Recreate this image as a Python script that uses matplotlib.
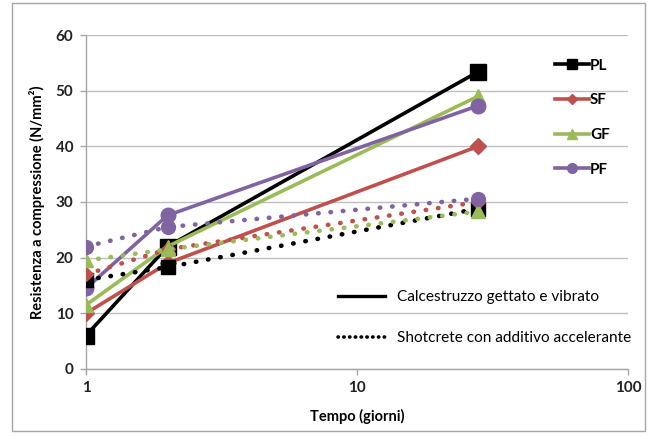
import matplotlib
matplotlib.use("Agg")
import matplotlib.pyplot as plt
from matplotlib.lines import Line2D
from matplotlib.patches import Rectangle

# =============================
# Data
# =============================
days = [1, 2, 28]
series_names = ["PL", "SF", "GF", "PF"]

# Calcestruzzo gettato e vibrato (solid)
pl_cast = [6.0, 22.0, 53.4]
sf_cast = [10.0, 19.0, 40.0]
gf_cast = [11.5, 22.0, 49.0]
pf_cast = [14.5, 27.6, 47.3]

# Shotcrete con additivo accelerante (dotted)
pl_shot = [16.0, 18.3, 28.8]
sf_shot = [17.0, 21.5, 30.0]
gf_shot = [19.5, 21.5, 28.3]
pf_shot = [22.0, 25.5, 30.6]

x_ticks = [1, 10, 100]
y_ticks = [0, 10, 20, 30, 40, 50, 60]

colors = {"PL": "#000000", "SF": "#C0504D", "GF": "#9BBB59", "PF": "#8064A2"}
markers = {"PL": "s", "SF": "D", "GF": "^", "PF": "o"}
msizes = {"PL": 11, "SF": 8, "GF": 10, "PF": 10.5}

plt.rcParams["font.family"] = ["Lato", "DejaVu Sans"]

fig = plt.figure(figsize=(6.49, 4.36), dpi=100)
ax = fig.add_axes([0.1325, 0.1537, 0.835, 0.766])

# chart border like the Excel chart area
fig.patches.append(Rectangle((0.018, 0.012), 0.976, 0.98, transform=fig.transFigure,
                             fill=False, edgecolor="#A6A6A6", linewidth=1.0))

cast = {"PL": pl_cast, "SF": sf_cast, "GF": gf_cast, "PF": pf_cast}
shot = {"PL": pl_shot, "SF": sf_shot, "GF": gf_shot, "PF": pf_shot}

dot_style = (0, (0.1, 2.6))

for name in series_names:
    c = colors[name]
    ax.plot(days, cast[name], color=c, linewidth=2.6, marker=markers[name],
            markersize=msizes[name], zorder=3)
for name in series_names:
    c = colors[name]
    ax.plot(days, shot[name], color=c, linewidth=3.3, linestyle=dot_style,
            dash_capstyle="round", marker=markers[name], markersize=msizes[name] * 0.95,
            zorder=4)

ax.set_xscale("log")
ax.set_xlim(1, 100)
ax.set_ylim(0, 60)
ax.set_xticks(x_ticks)
ax.set_xticklabels([str(v) for v in x_ticks])
ax.minorticks_off()
ax.set_yticks(y_ticks)

ax.grid(axis="y", color="#BFBFBF", linewidth=1.0)
ax.set_axisbelow(True)
for side in ["top", "right"]:
    ax.spines[side].set_visible(False)
for side in ["left", "bottom"]:
    ax.spines[side].set_color("#A6A6A6")
    ax.spines[side].set_linewidth(1.0)
ax.tick_params(axis="both", color="#A6A6A6", length=4, width=1.0, labelsize=11, pad=5)
for lab in ax.get_xticklabels() + ax.get_yticklabels():
    lab.set_fontweight("bold")
    lab.set_color("#222222")
for sp in ax.spines.values():
    sp.set_clip_on(False)

ax.set_xlabel("Tempo (giorni)", fontsize=10.5, fontweight="bold", labelpad=10)
ax.set_ylabel("Resistenza a compressione (N/mm²)", fontsize=10.5, fontweight="bold", labelpad=8)

# series legend
leg_handles = [Line2D([0], [0], color=colors[n], linewidth=2.6, marker=markers[n],
                      markersize=7 if n != "SF" else 5) for n in series_names]
leg1 = ax.legend(leg_handles, series_names, loc="upper left", bbox_to_anchor=(0.84, 0.97),
                 frameon=False, handlelength=2.2, handletextpad=0.1, labelspacing=1.35,
                 prop={"weight": "bold", "size": 11})
ax.add_artist(leg1)

# line style legend
style_handles = [Line2D([0], [0], color="black", linewidth=2.4),
                 Line2D([0], [0], color="black", linewidth=2.6, linestyle=(0, (0.1, 1.5)),
                        dash_capstyle="round")]
ax.legend(style_handles, ["Calcestruzzo gettato e vibrato", "Shotcrete con additivo accelerante"],
          loc="upper left", bbox_to_anchor=(0.44, 0.278), frameon=False, handlelength=3.0,
          handletextpad=0.8, labelspacing=1.75, prop={"size": 11.1})

fig.savefig("out.png", dpi=100)
